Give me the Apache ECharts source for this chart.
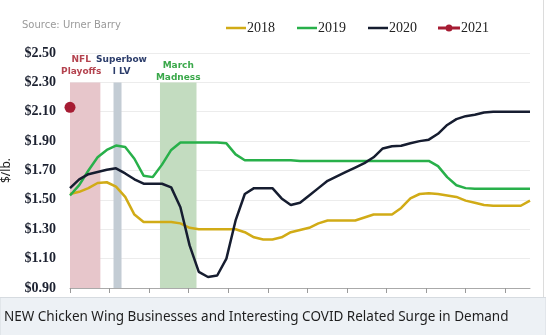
<!DOCTYPE html>
<html>
<head>
<meta charset="utf-8">
<script src="https://cdn.jsdelivr.net/npm/echarts@6/dist/echarts.min.js"></script>
<style>
  html, body { margin: 0; padding: 0; background: #ffffff; }
  #chart { width: 546px; height: 335px; }
</style>
</head>
<body>
<div id="chart"></div>
<script>
// Weekly wholesale chicken wing prices ($/lb), week 0 = first week of January
const weeks = [];
for (let i = 0; i <= 50; i++) weeks.push(i);

const price2018 = [1.54, 1.555, 1.58, 1.615, 1.62, 1.59, 1.52, 1.40, 1.35, 1.35,
  1.35, 1.35, 1.34, 1.31, 1.30, 1.30, 1.30, 1.30, 1.30, 1.28,
  1.245, 1.23, 1.23, 1.245, 1.28, 1.295, 1.31, 1.34, 1.36, 1.36,
  1.36, 1.36, 1.38, 1.40, 1.40, 1.40, 1.445, 1.51, 1.54, 1.545,
  1.54, 1.53, 1.52, 1.495, 1.48, 1.465, 1.46, 1.46, 1.46, 1.46, 1.495];

const price2019 = [1.53, 1.60, 1.70, 1.79, 1.84, 1.87, 1.86, 1.78, 1.665, 1.655,
  1.74, 1.84, 1.89, 1.89, 1.89, 1.89, 1.89, 1.885, 1.81, 1.77,
  1.77, 1.77, 1.77, 1.77, 1.77, 1.765, 1.765, 1.765, 1.765, 1.765,
  1.765, 1.765, 1.765, 1.765, 1.765, 1.765, 1.765, 1.765, 1.765, 1.765,
  1.73, 1.655, 1.60, 1.58, 1.575, 1.575, 1.575, 1.575, 1.575, 1.575, 1.575];

const price2020 = [1.58, 1.64, 1.675, 1.69, 1.705, 1.715, 1.68, 1.64, 1.61, 1.61,
  1.61, 1.585, 1.45, 1.19, 1.01, 0.975, 0.985, 1.10, 1.36, 1.54,
  1.58, 1.58, 1.58, 1.51, 1.465, 1.48, 1.53, 1.58, 1.63, 1.66,
  1.69, 1.72, 1.75, 1.79, 1.85, 1.865, 1.868, 1.885, 1.90, 1.91,
  1.95, 2.01, 2.05, 2.07, 2.08, 2.095, 2.10, 2.10, 2.10, 2.10, 2.10];

const weeks2021 = [0];
const price2021 = [2.13];

// Event windows (in weeks) shaded behind the lines
const eventNames = ['NFL\nPlayoffs', 'Superbow\nl LV', 'March\nMadness'];
const eventStart = [0, 4.73, 9.78];
const eventEnd = [3.3, 5.6, 13.75];
const eventFill = ['#e7c6cb', '#c3ccd4', '#c3dcc0'];
const eventText = ['#b4434f', '#2c3d6b', '#3aa84a'];
const eventLabelShift = [[-4, 0], [4, 0], [0, 6]];

const yMin = 0.9, yMax = 2.5, yStep = 0.2, eventTop = 2.3;
const monthStep = 4.3;
const monthTicks = [];
for (let m = 0; m < 12; m++) monthTicks.push(+(m * monthStep).toFixed(2));

const pairs = (xs, ys) => xs.map((x, i) => [x, ys[i]]);

const chart = echarts.init(document.getElementById('chart'), null, { renderer: 'canvas' });

const lineWidth = 2.5;
const colors = { '2018': '#d1ab16', '2019': '#28b04a', '2020': '#161d30', '2021': '#a61c33' };
const legendText = { fontFamily: 'Liberation Serif', fontSize: 14, color: '#222222', padding: [0, 0, 0, -4] };
// line-with-dot legend marker for the single 2021 reading
const dotLineIcon = 'path://M0,2 L22,2 L22,5 L0,5 Z M7.5,3.5 A3.5,3.5 0 1,1 14.5,3.5 A3.5,3.5 0 1,1 7.5,3.5 Z';

chart.setOption({
  animation: false,
  backgroundColor: '#ffffff',
  grid: { left: 70, right: 16, top: 53, bottom: 47, containLabel: false, outerBoundsMode: 'none' },
  legend: [
    {
      left: 221, top: 16,
      itemWidth: 20, itemHeight: 2.5, itemGap: 22, icon: 'rect',
      textStyle: legendText,
      data: ['2018', '2019', '2020']
    },
    {
      left: 433, top: 16,
      itemWidth: 22, itemHeight: 7,
      textStyle: legendText,
      data: [{ name: '2021', icon: dotLineIcon }]
    }
  ],
  xAxis: {
    type: 'value', min: 0, max: 50, interval: monthStep,
    axisLine: { show: true, lineStyle: { color: '#aaaaaa', width: 1 } },
    axisTick: { show: true, length: 5, inside: false, customValues: monthTicks, lineStyle: { color: '#9a9a9a' } },
    axisLabel: { show: false },
    splitLine: { show: false }
  },
  yAxis: {
    type: 'value', min: yMin, max: yMax, interval: yStep,
    name: '$/lb.', nameLocation: 'middle', nameGap: 57, nameRotate: 90,
    nameTextStyle: { fontFamily: 'Noto Sans', fontSize: 12, color: '#222222' },
    axisLine: { show: false }, axisTick: { show: false },
    axisLabel: {
      margin: 14,
      fontFamily: 'Liberation Serif', fontWeight: 'bold', fontSize: 14, color: '#1c2130',
      formatter: v => '$' + v.toFixed(2)
    },
    splitLine: { lineStyle: { color: '#ececec', width: 1 } }
  },
  graphic: [
    { type: 'text', left: 22, top: 20, style: { text: 'Source: Urner Barry', font: '10px "DejaVu Sans"', fill: '#9a9a9a' } },
    { type: 'rect', shape: { x: 0, y: 297.5, width: 546, height: 38 }, style: { fill: '#edf1f5', stroke: '#d6dbe0', lineWidth: 1 }, z: -1 },
    { type: 'line', shape: { x1: 543.5, y1: 0, x2: 543.5, y2: 297 }, style: { stroke: '#dcdcdc', lineWidth: 1 } },
    { type: 'text', left: 4, top: 310, style: { text: 'NEW Chicken Wing Businesses and Interesting COVID Related Surge in Demand', font: '13.5px "Noto Sans"', fill: '#1e1e1e' } }
  ],
  series: [
    {
      name: 'events', type: 'line', data: [], silent: true,
      markArea: {
        silent: true,
        data: eventNames.map((n, i) => [
          {
            name: n, xAxis: eventStart[i], yAxis: yMin,
            itemStyle: { color: eventFill[i], opacity: 1 },
            label: {
              show: true, position: 'top', distance: 5, offset: eventLabelShift[i],
              color: eventText[i], fontFamily: 'DejaVu Sans', fontWeight: 'bold', fontSize: 9, lineHeight: 12, align: 'center'
            }
          },
          { xAxis: eventEnd[i], yAxis: eventTop }
        ])
      }
    },
    {
      name: '2018', type: 'line', data: pairs(weeks, price2018), showSymbol: false, symbol: 'none',
      itemStyle: { color: colors['2018'] }, lineStyle: { color: colors['2018'], width: lineWidth }, z: 3
    },
    {
      name: '2019', type: 'line', data: pairs(weeks, price2019), showSymbol: false, symbol: 'none',
      itemStyle: { color: colors['2019'] }, lineStyle: { color: colors['2019'], width: lineWidth }, z: 3
    },
    {
      name: '2020', type: 'line', data: pairs(weeks, price2020), showSymbol: false, symbol: 'none',
      itemStyle: { color: colors['2020'] }, lineStyle: { color: colors['2020'], width: lineWidth }, z: 4
    },
    {
      name: '2021', type: 'line', data: pairs(weeks2021, price2021), showSymbol: true,
      symbol: 'circle', symbolSize: 11,
      itemStyle: { color: colors['2021'] }, lineStyle: { color: colors['2021'], width: 3 }, z: 5
    }
  ]
});
</script>
</body>
</html>
